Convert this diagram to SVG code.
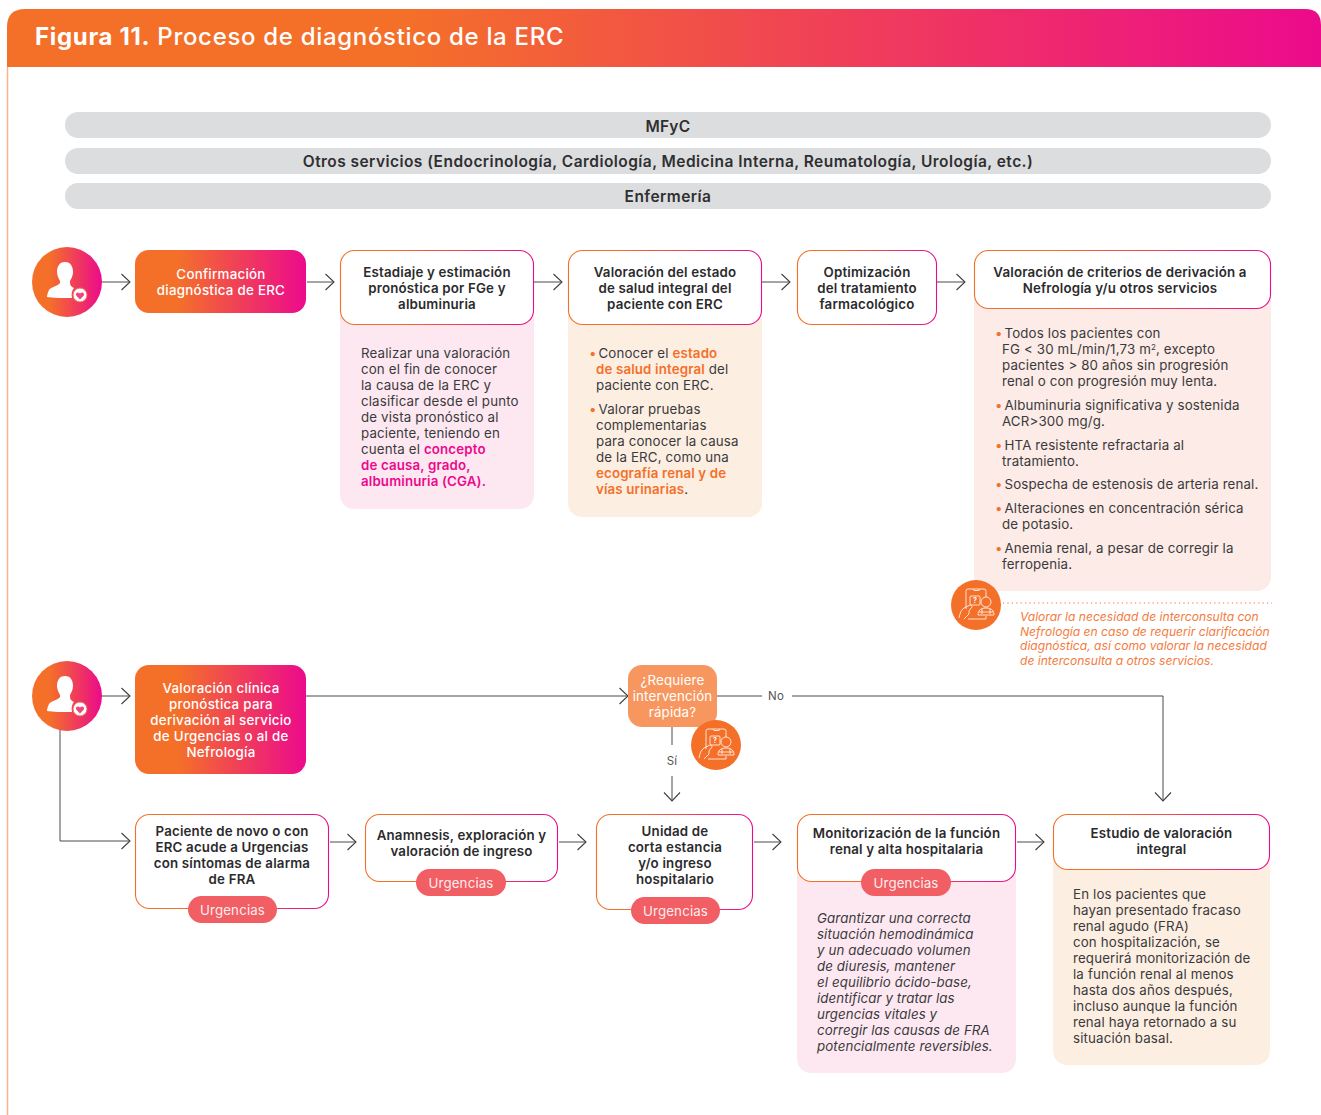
<svg xmlns="http://www.w3.org/2000/svg" width="1321" height="1115" viewBox="0 0 1321 1115">
<defs>
<linearGradient id="g" x1="0" y1="0" x2="1" y2="0"><stop offset="0.25" stop-color="#f47029"/><stop offset="1" stop-color="#ec0a8c"/></linearGradient>
<linearGradient id="gh" x1="0" y1="0" x2="1" y2="0"><stop offset="0.3" stop-color="#f47029"/><stop offset="1" stop-color="#ec0a8c"/></linearGradient>
<marker id="a" markerUnits="userSpaceOnUse" markerWidth="18" markerHeight="20" refX="13.5" refY="10" orient="auto"><path d="M5 2 L13.5 10 L5 18" fill="none" stroke="#3f3f3f" stroke-width="1.1"/></marker>
<g id="person"><path d="M0 -18 C-6 -18 -8 -13 -8 -8 C-8 -4 -6 -1 -5 1 L-5 3 C-7 6 -14 7 -16 10 C-17 12 -18 15 -18 17 C-12 18 -3 18 7 18 C6 14 7 10 9 8 C7 7 5 6 5 3 L5 1 C6 -1 8 -4 8 -8 C8 -13 6 -18 0 -18 Z" fill="#fff"/><circle cx="15" cy="15" r="7" fill="#fff" stroke="#f26a5a" stroke-width="1"/><path d="M15 19.500 L11.200 15.500 C9.900 13.300 12.800 11.200 15 13.500 C17.200 11.200 20.100 13.300 18.800 15.500 Z" fill="#f0457a"/></g>
<g id="doc" fill="none" stroke="#fff" stroke-width="0.8"><path d="M-10 4 L-10 -14 Q-10 -16 -8 -16 L8 -16 Q10 -16 10 -14 L10 -8"/><path d="M-3 -16 L-2 -14.500 L3 -14.500 L4 -16"/><rect x="-6" y="-9" width="10" height="9" rx="1"/><path d="M-17 13 C-16 8 -15 5 -12 3 L-6 0 C-4 0 -3 2 -5 3 L-7 6 L-7 9 L-12 14"/><path d="M-8 14 L10 14 L10 11"/><circle cx="10" cy="-3" r="5"/><path d="M2 10 C2 6 4 3 10 3 C16 3 18 6 18 10 L2 10 Z"/><path d="M6 4 L6 9 M14 4 L14 9 M3 7 L17 7"/><text x="-1" y="-2" style="font-size:7px;font-weight:700;fill:#fff;stroke:none;text-anchor:middle;letter-spacing:0">?</text></g>
</defs>
<style>
text{font-family:"Inter","Liberation Sans",sans-serif;fill:#3a3a3c;font-size:13.3px;letter-spacing:.15px}
.c{text-anchor:middle}
.b{font-weight:600;fill:#2b2b2d;letter-spacing:.18px}
.w{fill:#fff;font-weight:500;letter-spacing:.28px}
.bar{fill:#dcddde}
.bt{font-size:15.5px;font-weight:600;text-anchor:middle;fill:#2f2f31;letter-spacing:.45px}
.n{fill:#fff;stroke:url(#g);stroke-width:1.1}
.f{fill:url(#g)}
.o{fill:#f47029}
.oo{fill:#f47029;font-weight:600}
.p{fill:#ec0a8c;font-weight:600}
.badge{fill:#f15f65}
.bl{fill:#fff;text-anchor:middle;font-size:13.3px;fill-opacity:.9}
.l{fill:none;stroke:#4a4a4a;stroke-width:1}
.la{fill:#555;font-size:11.5px;text-anchor:middle}
.i{font-style:italic;letter-spacing:.1px}
.ni{font-style:italic;fill:#f47b3e;font-size:12.1px;letter-spacing:0}
</style>

<g id="header">
<path d="M7 67 L7 27 Q7 9 25 9 L1305 9 Q1321 9 1321 25 L1321 67 Z" fill="url(#gh)"/>
<path d="M7.5 67 L7.5 1115" stroke="#f9b48c" stroke-width="1.500" fill="none"/>
<text x="35" y="45" style="font-size:24px;fill:#fff;letter-spacing:.68px"><tspan font-weight="700">Figura 11.</tspan><tspan font-weight="500"> Proceso de diagnóstico de la ERC</tspan></text>
</g>

<g id="bar-mfyc"><rect class="bar" x="65" y="112" width="1206" height="26" rx="13"/><text class="bt" x="668" y="132">MFyC</text></g>
<g id="bar-otros"><rect class="bar" x="65" y="148" width="1206" height="26" rx="13"/><text class="bt" x="668" y="167">Otros servicios (Endocrinología, Cardiología, Medicina Interna, Reumatología, Urología, etc.)</text></g>
<g id="bar-enf"><rect class="bar" x="65" y="183" width="1206" height="26" rx="13"/><text class="bt" x="668" y="202">Enfermería</text></g>

<g id="connectors">
<path class="l" marker-end="url(#a)" d="M102 282 H130"/>
<path class="l" marker-end="url(#a)" d="M307 282 H334"/>
<path class="l" marker-end="url(#a)" d="M534 282 H562"/>
<path class="l" marker-end="url(#a)" d="M762 282 H790"/>
<path class="l" marker-end="url(#a)" d="M937 282 H965"/>
<path class="l" marker-end="url(#a)" d="M102 696 H130"/>
<path class="l" marker-end="url(#a)" d="M306 696 H628"/>
<path class="l" d="M717 696 H762"/>
<path class="l" marker-end="url(#a)" d="M792 696 H1163 V801"/>
<path class="l" d="M672 727 V745"/>
<path class="l" marker-end="url(#a)" d="M672 776 V801"/>
<path class="l" marker-end="url(#a)" d="M60 725 V841 H130"/>
<path class="l" marker-end="url(#a)" d="M330 842 H356"/>
<path class="l" marker-end="url(#a)" d="M559 842 H586"/>
<path class="l" marker-end="url(#a)" d="M754 842 H781"/>
<path class="l" marker-end="url(#a)" d="M1017 842 H1044"/>
<text class="la" x="776" y="700">No</text>
<text class="la" x="672" y="765">Sí</text>
</g>

<g id="start-1"><circle cx="67" cy="282" r="35" fill="url(#g)"/><use href="#person" x="65" y="280"/></g>
<g id="confirmacion"><rect class="f" x="135" y="250" width="171" height="63" rx="14"/>
<text class="c w" x="221" y="279">Confirmación</text><text class="c w" x="221" y="295">diagnóstica de ERC</text></g>

<g id="estadiaje">
<rect x="340" y="270" width="194" height="239" rx="14" fill="#fde8f1"/>
<rect class="n" x="340.500" y="250.500" width="193" height="74" rx="14"/>
<text class="c b" x="437" y="277">Estadiaje y estimación</text><text class="c b" x="437" y="293">pronóstica por FGe y</text><text class="c b" x="437" y="309">albuminuria</text>
<text x="361" y="358">Realizar una valoración</text>
<text x="361" y="374">con el fin de conocer</text>
<text x="361" y="390">la causa de la ERC y</text>
<text x="361" y="406">clasificar desde el punto</text>
<text x="361" y="422">de vista pronóstico al</text>
<text x="361" y="438">paciente, teniendo en</text>
<text x="361" y="454">cuenta el <tspan class="p">concepto</tspan></text>
<text x="361" y="470" class="p">de causa, grado,</text>
<text x="361" y="486" class="p">albuminuria (CGA).</text>
</g>

<g id="valoracion-estado">
<rect x="568" y="270" width="194" height="247" rx="14" fill="#fdeee2"/>
<rect class="n" x="568.500" y="250.500" width="193" height="74" rx="14"/>
<text class="c b" x="665" y="277">Valoración del estado</text><text class="c b" x="665" y="293">de salud integral del</text><text class="c b" x="665" y="309">paciente con ERC</text>
<text y="358"><tspan class="o" x="589">•</tspan><tspan x="598.500">Conocer el </tspan><tspan class="oo">estado</tspan></text>
<text x="596" y="374"><tspan class="oo">de salud integral</tspan> del</text>
<text x="596" y="390">paciente con ERC.</text>
<text y="414"><tspan class="o" x="589">•</tspan><tspan x="598.500">Valorar pruebas</tspan></text>
<text x="596" y="430">complementarias</text>
<text x="596" y="446">para conocer la causa</text>
<text x="596" y="462">de la ERC, como una</text>
<text x="596" y="478" class="oo">ecografía renal y de</text>
<text x="596" y="494"><tspan class="oo">vías urinarias</tspan>.</text>
</g>

<g id="optimizacion">
<rect class="n" x="797.500" y="250.500" width="139" height="74" rx="14"/>
<text class="c b" x="867" y="277">Optimización</text><text class="c b" x="867" y="293">del tratamiento</text><text class="c b" x="867" y="309">farmacológico</text>
</g>

<g id="criterios">
<rect x="974" y="270" width="297" height="321" rx="14" fill="#fcebe6"/>
<rect class="n" x="974.500" y="250.500" width="296" height="58" rx="14"/>
<text class="c b" x="1120" y="277">Valoración de criterios de derivación a</text><text class="c b" x="1120" y="293">Nefrología y/u otros servicios</text>
<text y="338"><tspan class="o" x="995">•</tspan><tspan x="1004.500">Todos los pacientes con</tspan></text>
<text x="1002" y="354">FG &lt; 30 mL/min/1,73 m<tspan dy="-4" style="font-size:8px">2</tspan><tspan dy="4">, excepto</tspan></text>
<text x="1002" y="370">pacientes &gt; 80 años sin progresión</text>
<text x="1002" y="386">renal o con progresión muy lenta.</text>
<text y="410"><tspan class="o" x="995">•</tspan><tspan x="1004.500">Albuminuria significativa y sostenida</tspan></text>
<text x="1002" y="426">ACR&gt;300 mg/g.</text>
<text y="450"><tspan class="o" x="995">•</tspan><tspan x="1004.500">HTA resistente refractaria al</tspan></text>
<text x="1002" y="466">tratamiento.</text>
<text y="489"><tspan class="o" x="995">•</tspan><tspan x="1004.500">Sospecha de estenosis de arteria renal.</tspan></text>
<text y="513"><tspan class="o" x="995">•</tspan><tspan x="1004.500">Alteraciones en concentración sérica</tspan></text>
<text x="1002" y="529">de potasio.</text>
<text y="553"><tspan class="o" x="995">•</tspan><tspan x="1004.500">Anemia renal, a pesar de corregir la</tspan></text>
<text x="1002" y="569">ferropenia.</text>
</g>

<g id="nota-interconsulta">
<path d="M1003 603 H1272" fill="none" stroke="#f47029" stroke-width="1.200" stroke-dasharray="1.200 3.200"/>
<circle cx="976" cy="605" r="25" fill="#f47029"/><use href="#doc" x="976" y="605"/>
<text class="ni" x="1020" y="621">Valorar la necesidad de interconsulta con</text>
<text class="ni" x="1020" y="636">Nefrología en caso de requerir clarificación</text>
<text class="ni" x="1020" y="650">diagnóstica, así como valorar la necesidad</text>
<text class="ni" x="1020" y="665">de interconsulta a otros servicios.</text>
</g>

<g id="start-2"><circle cx="67" cy="696" r="35" fill="url(#g)"/><use href="#person" x="65" y="694"/></g>
<g id="valoracion-clinica"><rect class="f" x="135" y="665" width="171" height="109" rx="14"/>
<text class="c w" x="221" y="693">Valoración clínica</text><text class="c w" x="221" y="709">pronóstica para</text><text class="c w" x="221" y="725">derivación al servicio</text><text class="c w" x="221" y="741">de Urgencias o al de</text><text class="c w" x="221" y="757">Nefrología</text></g>

<g id="decision"><rect x="628" y="665" width="89" height="62" rx="14" fill="#f7975f"/>
<text class="c" style="fill:#fff" x="672.500" y="685">¿Requiere</text><text class="c" style="fill:#fff" x="672.500" y="701">intervención</text><text class="c" style="fill:#fff" x="672.500" y="717">rápida?</text>
<circle cx="716" cy="745" r="25" fill="#f47029"/><use href="#doc" x="716" y="745"/></g>

<g id="paciente-novo"><rect class="n" x="135.500" y="814.500" width="193" height="94" rx="14"/>
<text class="c b" x="232" y="836">Paciente de novo o con</text><text class="c b" x="232" y="852">ERC acude a Urgencias</text><text class="c b" x="232" y="868">con síntomas de alarma</text><text class="c b" x="232" y="884">de FRA</text>
<rect class="badge" x="188" y="896" width="89" height="27" rx="13.500"/><text class="bl" x="232.500" y="915">Urgencias</text></g>

<g id="anamnesis"><rect class="n" x="365.500" y="814.500" width="192" height="67" rx="14"/>
<text class="c b" x="461.500" y="840">Anamnesis, exploración y</text><text class="c b" x="461.500" y="856">valoración de ingreso</text>
<rect class="badge" x="416" y="869" width="90" height="27" rx="13.500"/><text class="bl" x="461" y="888">Urgencias</text></g>

<g id="unidad"><rect class="n" x="596.500" y="814.500" width="156" height="95" rx="14"/>
<text class="c b" x="675" y="836">Unidad de</text><text class="c b" x="675" y="852">corta estancia</text><text class="c b" x="675" y="868">y/o ingreso</text><text class="c b" x="675" y="884">hospitalario</text>
<rect class="badge" x="631" y="897" width="89" height="27" rx="13.500"/><text class="bl" x="675.500" y="916">Urgencias</text></g>

<g id="monitorizacion">
<rect x="797" y="840" width="219" height="233" rx="14" fill="#fde8f1"/>
<rect class="n" x="797.500" y="814.500" width="218" height="67" rx="14"/>
<text class="c b" x="906.500" y="838">Monitorización de la función</text><text class="c b" x="906.500" y="854">renal y alta hospitalaria</text>
<rect class="badge" x="861" y="869" width="90" height="27" rx="13.500"/><text class="bl" x="906" y="888">Urgencias</text>
<text class="i" x="817" y="923">Garantizar una correcta</text>
<text class="i" x="817" y="939">situación hemodinámica</text>
<text class="i" x="817" y="955">y un adecuado volumen</text>
<text class="i" x="817" y="971">de diuresis, mantener</text>
<text class="i" x="817" y="987">el equilibrio ácido-base,</text>
<text class="i" x="817" y="1003">identificar y tratar las</text>
<text class="i" x="817" y="1019">urgencias vitales y</text>
<text class="i" x="817" y="1035">corregir las causas de FRA</text>
<text class="i" x="817" y="1051">potencialmente reversibles.</text>
</g>

<g id="estudio">
<rect x="1053" y="840" width="217" height="225" rx="14" fill="#fdeee2"/>
<rect class="n" x="1053.500" y="814.500" width="216" height="55" rx="14"/>
<text class="c b" x="1161.500" y="838">Estudio de valoración</text><text class="c b" x="1161.500" y="854">integral</text>
<text x="1073" y="899">En los pacientes que</text>
<text x="1073" y="915">hayan presentado fracaso</text>
<text x="1073" y="931">renal agudo (FRA)</text>
<text x="1073" y="947">con hospitalización, se</text>
<text x="1073" y="963">requerirá monitorización de</text>
<text x="1073" y="979">la función renal al menos</text>
<text x="1073" y="995">hasta dos años después,</text>
<text x="1073" y="1011">incluso aunque la función</text>
<text x="1073" y="1027">renal haya retornado a su</text>
<text x="1073" y="1043">situación basal.</text>
</g>
</svg>
